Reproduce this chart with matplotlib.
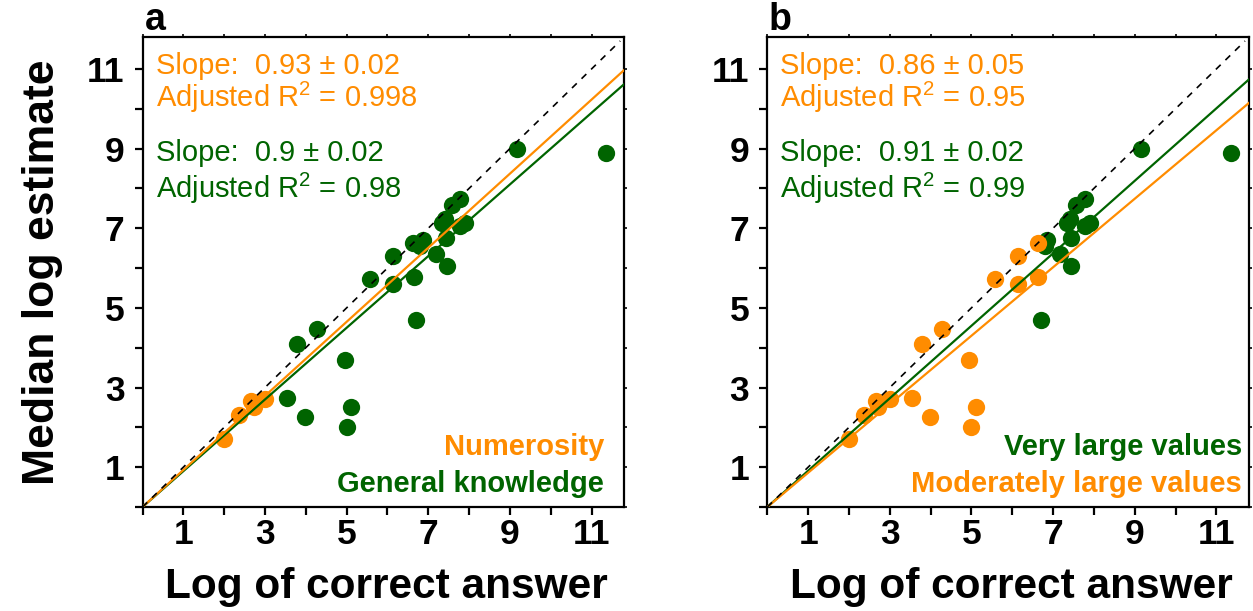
import matplotlib
matplotlib.use('Agg')
import matplotlib.pyplot as plt
from matplotlib import font_manager
from matplotlib.ticker import FixedLocator, FuncFormatter

# log(correct answer) vs median log(estimate)
numerosity_x = [2.00, 2.37, 2.65, 2.72, 3.00]
numerosity_y = [1.71, 2.32, 2.65, 2.52, 2.72]

# general knowledge questions, moderately large answers
moderate_x = [3.55, 3.98, 3.79, 4.27, 4.95, 5.00, 5.11, 5.58, 6.14, 6.14, 6.64, 6.62]
moderate_y = [2.74, 2.25, 4.10, 4.48, 3.70, 2.00, 2.52, 5.72, 6.30, 5.59, 5.78, 6.62]

# general knowledge questions, very large answers
very_large_x = [6.70, 6.86, 6.80, 7.18, 7.45, 7.43, 7.33, 7.41, 7.78, 7.90, 7.57, 7.78, 9.16, 11.35]
very_large_y = [4.70, 6.71, 6.55, 6.34, 6.04, 6.76, 7.13, 7.22, 7.05, 7.13, 7.59, 7.74, 9.00, 8.90]

# fitted slopes (lines through the origin)
slope_a = {'numerosity': 0.93, 'general': 0.9}
slope_b = {'moderate': 0.86, 'very_large': 0.91}
stats_a = [('Slope:  0.93 ± 0.02', r'Adjusted R$^2$ = 0.998'),
           ('Slope:  0.9 ± 0.02', r'Adjusted R$^2$ = 0.98')]
stats_b = [('Slope:  0.86 ± 0.05', r'Adjusted R$^2$ = 0.95'),
           ('Slope:  0.91 ± 0.02', r'Adjusted R$^2$ = 0.99')]

ORANGE = '#FF8C00'
GREEN = '#006400'
LIM = 11.8

plt.rcParams['font.family'] = 'Liberation Sans'
plt.rcParams['mathtext.fontset'] = 'custom'
plt.rcParams['mathtext.rm'] = 'Liberation Sans'
plt.rcParams['mathtext.it'] = 'Liberation Sans:italic'
plt.rcParams['mathtext.bf'] = 'Liberation Sans:bold'

names = {f.name for f in font_manager.fontManager.ttflist}
narrow = 'Liberation Sans Narrow' in names
LABEL_FONT = 'Liberation Sans Narrow' if narrow else 'Liberation Sans'
XLABEL_SIZE = 37 if narrow else 30.5
YLABEL_SIZE = 39 if narrow else 32

W, H = 1253, 611
fig = plt.figure(figsize=(W / 100, H / 100), dpi=100)
ax_a = fig.add_axes([142.5 / W, 1 - 507 / H, 481.8 / W, 470 / H])
ax_b = fig.add_axes([767.3 / W, 1 - 507 / H, 481.8 / W, 470 / H])


def odd_only(v, pos):
    v = int(round(v))
    return str(v) if v % 2 == 1 else ''


def style_axes(ax):
    ax.set_xlim(0, LIM)
    ax.set_ylim(0, LIM)
    for s in ax.spines.values():
        s.set_linewidth(1.6)
    ticks = list(range(0, 12))
    for axis in (ax.xaxis, ax.yaxis):
        axis.set_major_locator(FixedLocator(ticks))
        axis.set_major_formatter(FuncFormatter(odd_only))
    ax.tick_params(direction='out', length=6, width=1.6, labelsize=25.5,
                   top=False, right=False)
    ax.tick_params(axis='x', pad=2)
    ax.tick_params(axis='y', pad=7)
    for lab in ax.get_xticklabels() + ax.get_yticklabels():
        lab.set_fontweight('bold')
    # short outer ticks on the top and right frame
    sec_x = ax.secondary_xaxis('top')
    sec_x.set_xticks(ticks)
    sec_x.tick_params(direction='out', length=2.2, width=1.2, labeltop=False)
    sec_y = ax.secondary_yaxis('right')
    sec_y.set_yticks(ticks)
    sec_y.tick_params(direction='out', length=2.2, width=1.2, labelright=False)
    for sec in (sec_x, sec_y):
        for s in sec.spines.values():
            s.set_visible(False)
    ax.plot([0, 11.7], [0, 11.7], color='black', lw=1.2,
            linestyle=(0, (4, 4)), zorder=6)
    ax.text(0.506, (507 - 598) / 470, 'Log of correct answer',
            transform=ax.transAxes, ha='center', va='baseline',
            fontsize=XLABEL_SIZE, fontweight='bold', family=LABEL_FONT)


def put_stats(ax, stats, colors):
    ys = [(10.86, 10.04), (8.68, 7.77)]
    for (l1, l2), (y1, y2), c in zip(stats, ys, colors):
        ax.text(0.32, y1, l1, color=c, fontsize=21, va='baseline')
        ax.text(0.32, y2, l2, color=c, fontsize=21, va='baseline')


# panel a: numerosity vs general knowledge
gk_x = moderate_x + very_large_x
gk_y = moderate_y + very_large_y
ax_a.scatter(gk_x, gk_y, s=155, color=GREEN, linewidths=0, zorder=3)
ax_a.scatter(numerosity_x, numerosity_y, s=155, color=ORANGE, linewidths=0, zorder=4)
ax_a.plot([0, LIM], [0, slope_a['general'] * LIM], color=GREEN, lw=1.6, zorder=5)
ax_a.plot([0, LIM], [0, slope_a['numerosity'] * LIM], color=ORANGE, lw=1.6, zorder=5)
style_axes(ax_a)
put_stats(ax_a, stats_a, [ORANGE, GREEN])
ax_a.text(11.31, 1.31, 'Numerosity', color=ORANGE, fontsize=21,
          fontweight='bold', ha='right', va='baseline')
ax_a.text(11.31, 0.385, 'General knowledge', color=GREEN, fontsize=21,
          fontweight='bold', ha='right', va='baseline')

# panel b: moderately large vs very large values
mod_x = numerosity_x + moderate_x
mod_y = numerosity_y + moderate_y
ax_b.scatter(very_large_x, very_large_y, s=155, color=GREEN, linewidths=0, zorder=3)
ax_b.scatter(mod_x, mod_y, s=155, color=ORANGE, linewidths=0, zorder=4)
ax_b.plot([0, LIM], [0, slope_b['very_large'] * LIM], color=GREEN, lw=1.6, zorder=5)
ax_b.plot([0, LIM], [0, slope_b['moderate'] * LIM], color=ORANGE, lw=1.6, zorder=5)
style_axes(ax_b)
put_stats(ax_b, stats_b, [ORANGE, GREEN])
ax_b.text(11.62, 1.31, 'Very large values', color=GREEN, fontsize=21,
          fontweight='bold', ha='right', va='baseline')
ax_b.text(11.62, 0.385, 'Moderately large values', color=ORANGE, fontsize=21,
          fontweight='bold', ha='right', va='baseline')

fig.text(54 / W, 1 - 272 / H, 'Median log estimate', rotation=90,
         rotation_mode='anchor', ha='center', va='baseline',
         fontsize=YLABEL_SIZE, fontweight='bold', family=LABEL_FONT)
fig.text(145 / W, 1 - 30 / H, 'a', fontsize=27, fontweight='bold', va='baseline')
fig.text(769 / W, 1 - 30 / H, 'b', fontsize=27, fontweight='bold', va='baseline')

fig.savefig('out.png', dpi=100)
